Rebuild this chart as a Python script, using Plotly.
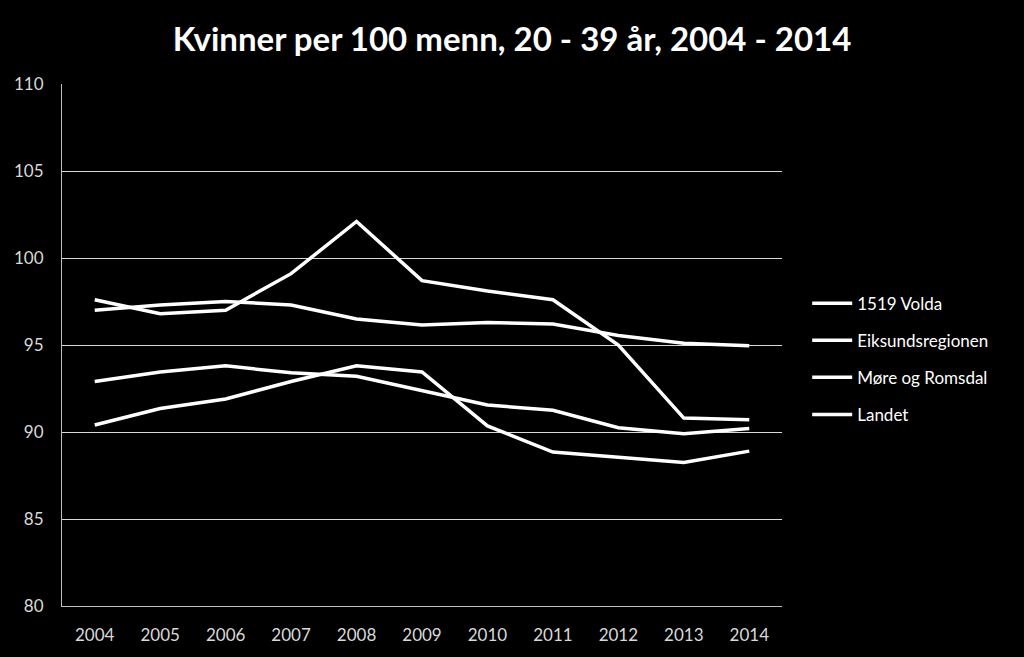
import plotly.graph_objects as go

years = ["2004", "2005", "2006", "2007", "2008", "2009", "2010", "2011", "2012", "2013", "2014"]
volda = [97.6, 96.8, 97.0, 99.1, 102.1, 98.7, 98.1, 97.6, 95.0, 90.8, 90.7]
eiksund = [90.4, 91.35, 91.9, 92.9, 93.8, 93.45, 90.35, 88.85, 88.55, 88.25, 88.9]
more_romsdal = [92.9, 93.45, 93.8, 93.4, 93.2, 92.4, 91.55, 91.25, 90.25, 89.9, 90.2]
landet = [97.0, 97.3, 97.5, 97.3, 96.5, 96.15, 96.3, 96.2, 95.55, 95.1, 94.95]

names = ["1519 Volda", "Eiksundsregionen", "Møre og Romsdal", "Landet"]
series = [volda, eiksund, more_romsdal, landet]

font_family = "Lato, Open Sans, sans-serif"

fig = go.Figure()
for i, (n, s) in enumerate(zip(names, series)):
    fig.add_trace(go.Scatter(
        x=years, y=s, name=n, mode="lines",
        line=dict(color="white", width=3.5),
        legendgroup=f"g{i}",
    ))

fig.update_layout(
    width=1024, height=657,
    paper_bgcolor="black", plot_bgcolor="black",
    margin=dict(l=62, r=242, t=84, b=51),
    title=dict(
        text="<b>Kvinner per 100 menn, 20 - 39 år, 2004 - 2014</b>",
        x=0.5, xanchor="center", y=0.94, yanchor="middle",
        font=dict(family=font_family, size=33, color="white"),
    ),
    font=dict(family=font_family, color="#d9d9d9", size=17),
    xaxis=dict(
        type="category", range=[-0.5, 10.5],
        showgrid=False, showline=True, linecolor="#bfbfbf", linewidth=1,
        ticks="", tickfont=dict(size=17, color="#d9d9d9"),
        ticklabelstandoff=14,
    ),
    yaxis=dict(
        range=[80, 110], dtick=5, tick0=80,
        showgrid=True, gridcolor="#d9d9d9", gridwidth=1,
        showline=True, linecolor="#bfbfbf", linewidth=1,
        zeroline=False, ticks="",
        tickfont=dict(size=17, color="#d9d9d9"),
        ticklabelstandoff=14,
    ),
    legend=dict(
        x=1.035, xanchor="left", y=0.473, yanchor="middle",
        font=dict(size=17, color="white"),
        bgcolor="rgba(0,0,0,0)",
        tracegroupgap=12,
        itemwidth=40,
    ),
    showlegend=True,
)

fig.write_html("out.html")
